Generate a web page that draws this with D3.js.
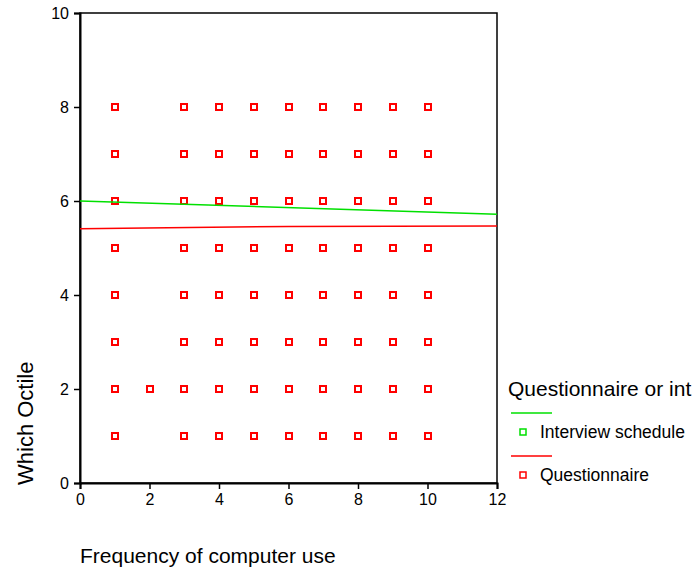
<!DOCTYPE html>
<html>
<head>
<meta charset="utf-8">
<script src="https://d3js.org/d3.v7.min.js"></script>
<style>
	body { margin: 0; background: #fff; }
	svg { font-family: "Liberation Sans", Arial, sans-serif; }
</style>
</head>
<body>
<div id="chart"></div>
<script>

// scatter: Which Octile vs Frequency of computer use

let xTicks = [0, 2, 4, 6, 8, 10, 12]
let yTicks = [0, 2, 4, 6, 8, 10]

// points (x = frequency, y = octile)
let questionnairePoints = [
	[1,8],[3,8],[4,8],[5,8],[6,8],[7,8],[8,8],[9,8],[10,8],
	[1,7],[3,7],[4,7],[5,7],[6,7],[7,7],[8,7],[9,7],[10,7],
	[1,6],[3,6],[4,6],[5,6],[6,6],[7,6],[8,6],[9,6],[10,6],
	[1,5],[3,5],[4,5],[5,5],[6,5],[7,5],[8,5],[9,5],[10,5],
	[1,4],[3,4],[4,4],[5,4],[6,4],[7,4],[8,4],[9,4],[10,4],
	[1,3],[3,3],[4,3],[5,3],[6,3],[7,3],[8,3],[9,3],[10,3],
	[1,2],[2,2],[3,2],[4,2],[5,2],[6,2],[7,2],[8,2],[9,2],[10,2],
	[1,1],[3,1],[4,1],[5,1],[6,1],[7,1],[8,1],[9,1],[10,1]
]
// interview points sit underneath the red ones
let interviewPoints = [
	[1,8],[5,8],[9,8],[1,7],[4,7],[8,7],[1,6],[6,6],[10,6],
	[1,5],[5,5],[9,5],[1,4],[4,4],[7,4],[1,3],[8,3],[1,2],[5,2],[9,2],[1,1],[6,1]
]

// fit lines
let interviewFit = [[0, 6.0], [12, 5.72]]
let questionnaireFit = [[0, 5.41], [6, 5.46], [12, 5.47]]

let legendTitle = 'Questionnaire or int'
let legendItems = [
	{ label: 'Interview schedule', color: '#00e000' },
	{ label: 'Questionnaire', color: '#ff0000' }
]

let width = 694
let height = 571
let margin = { left: 80, right: 197, top: 13, bottom: 88 }

let x = d3.scaleLinear().domain([0, 12]).range([margin.left, width - margin.right])
let y = d3.scaleLinear().domain([0, 10]).range([height - margin.bottom, margin.top])

let svg = d3.select('#chart').append('svg')
	.attr('width', width).attr('height', height)

// frame
svg.append('rect')
	.attr('x', x(0)).attr('y', y(10))
	.attr('width', x(12) - x(0)).attr('height', y(0) - y(10))
	.attr('fill', 'none').attr('stroke', '#000').attr('stroke-width', 1.5)

let xAxis = d3.axisBottom(x).tickValues(xTicks).tickSize(6).tickPadding(5)
let yAxis = d3.axisLeft(y).tickValues(yTicks).tickSize(6).tickPadding(5)

let gx = svg.append('g').attr('transform', `translate(0,${y(0)})`).call(xAxis)
let gy = svg.append('g').attr('transform', `translate(${x(0)},0)`).call(yAxis)
for (let g of [gx, gy]) {
	g.select('.domain').attr('stroke', '#000').attr('stroke-width', 2)
	g.selectAll('.tick line').attr('stroke', '#000').attr('stroke-width', 1.5)
	g.selectAll('.tick text').attr('font-size', 16).attr('fill', '#000')
		.attr('font-family', '"Liberation Sans", Arial, sans-serif')
}

// axis titles
svg.append('text')
	.attr('x', x(0)).attr('y', 563)
	.attr('font-size', 21).text('Frequency of computer use')

svg.append('text')
	.attr('transform', `translate(33,${y(0) + 2}) rotate(-90)`)
	.attr('font-size', 22).text('Which Octile')

// points
let s = 6
function drawPoints(points, color) {
	svg.append('g').selectAll('rect')
		.data(points)
		.enter().append('rect')
		.attr('x', d => Math.round(x(d[0]) - s / 2))
		.attr('y', d => Math.round(y(d[1]) - s / 2))
		.attr('width', s).attr('height', s)
		.attr('fill', '#fff')
		.attr('stroke', color).attr('stroke-width', 2.5)
		.attr('shape-rendering', 'crispEdges')
}
drawPoints(interviewPoints, legendItems[0].color)
drawPoints(questionnairePoints, legendItems[1].color)

// fit lines
let line = d3.line().x(d => x(d[0])).y(d => y(d[1]))
svg.append('path').attr('d', line(interviewFit))
	.attr('fill', 'none').attr('stroke', '#00e000').attr('stroke-width', 1.5)
svg.append('path').attr('d', line(questionnaireFit))
	.attr('fill', 'none').attr('stroke', '#ff0000').attr('stroke-width', 1.5)

// legend
let legend = svg.append('g')
legend.append('text').attr('x', 508).attr('y', 396)
	.attr('font-size', 21).text(legendTitle)

legendItems.forEach((item, i) => {
	let top = 413 + i * 43
	legend.append('line')
		.attr('x1', 511).attr('x2', 552).attr('y1', top).attr('y2', top)
		.attr('stroke', item.color).attr('stroke-width', 1.5)
	legend.append('rect')
		.attr('x', 520).attr('y', top + 16).attr('width', 6).attr('height', 6)
		.attr('fill', '#fff').attr('stroke', item.color).attr('stroke-width', 1.5)
	legend.append('text')
		.attr('x', 540).attr('y', top + 25)
		.attr('font-size', 17.5).text(item.label)
})

</script>
</body>
</html>
